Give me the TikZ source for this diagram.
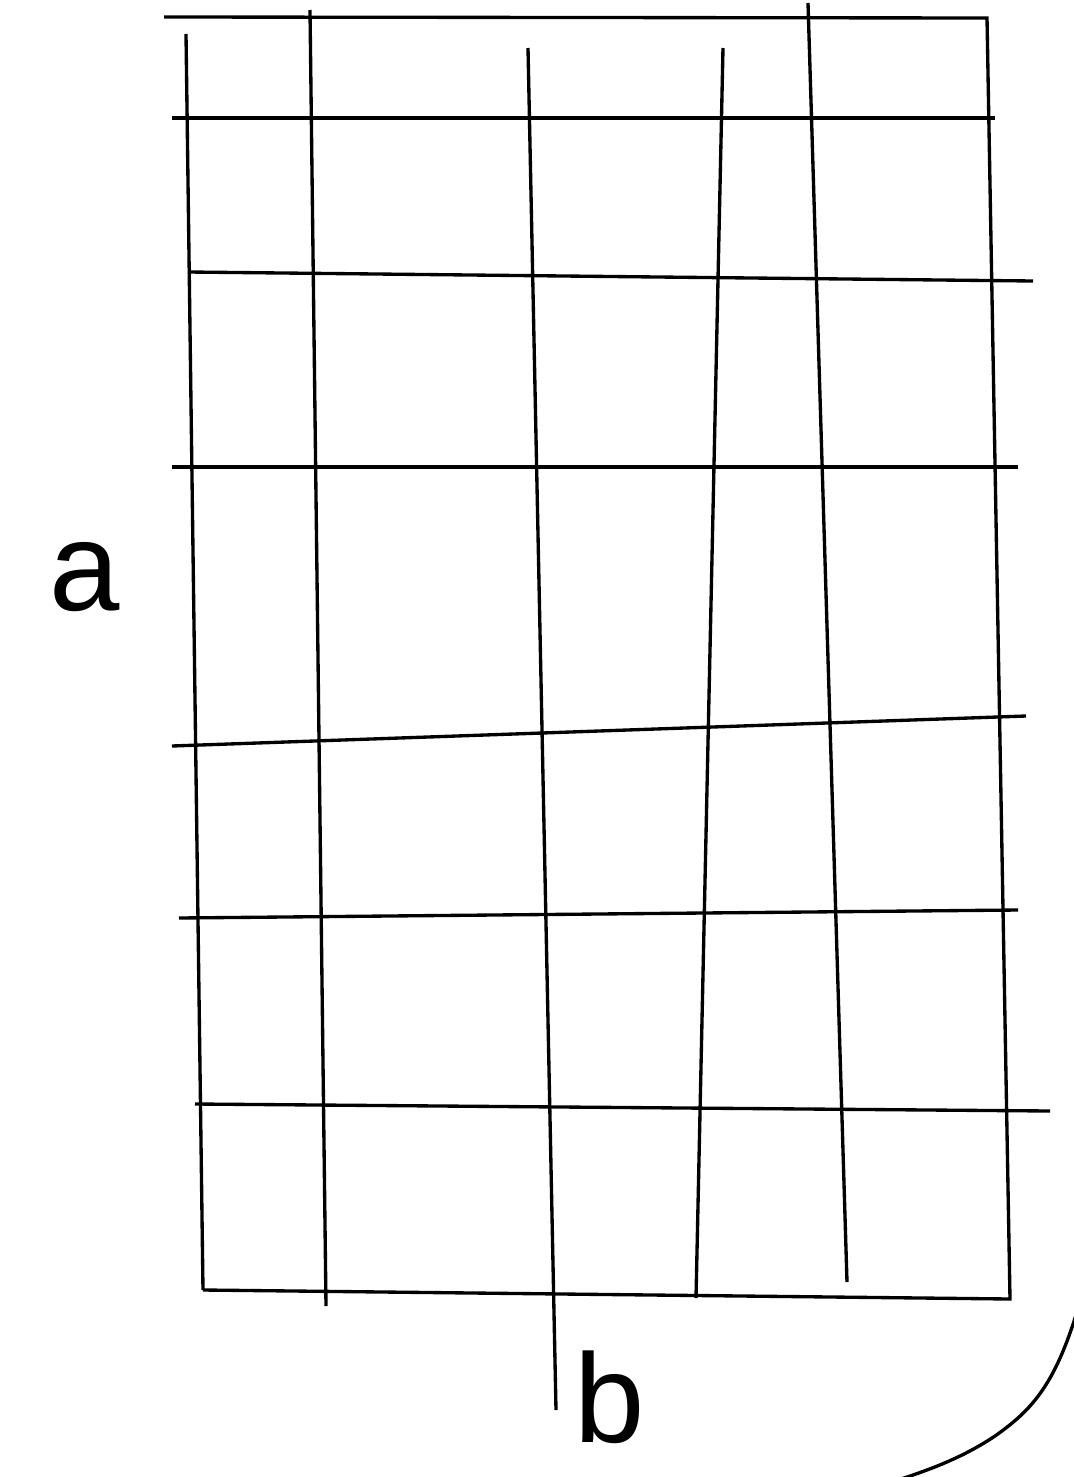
\documentclass[tikz,border=0pt]{standalone}
\usepackage{fontspec}
\setmainfont{Liberation Sans}
\usetikzlibrary{positioning}
\tikzset{gridline/.style={line width=1.9pt},
  letter/.style={inner sep=0pt,anchor=base,font=\fontsize{72}{72}\selectfont}}

\begin{document}
\begin{tikzpicture}[x=0.02cm,y=-0.02cm]
\useasboundingbox (0,0) rectangle (1073,1477);
% outer frame, top and right, bottom
\draw[gridline] (164,17) -- (987,18) -- (1010,1299) -- (203,1290);
% horizontal lines
\draw[gridline] (172,118) -- (995,118);
\draw[gridline] (188,272) -- (1033,281);
\draw[gridline] (172,467) -- (1018,467);
\draw[gridline] (172,746) -- (1026,716);
\draw[gridline] (179,918) -- (1018,910);
\draw[gridline] (195,1104) -- (1050,1111);
% vertical lines
\draw[gridline] (186,34) -- (203,1290);
\draw[gridline] (310,10) -- (326,1306);
\draw[gridline] (528,48) -- (556,1410);
\draw[gridline] (723,48) -- (696,1298);
\draw[gridline] (808,3) -- (847,1282);
% curve lower right
\draw[gridline] (1076,1315) .. controls (1054,1385) and (1032,1410) .. (995,1436)
  .. controls (965,1456) and (935,1468) .. (898,1480);
% labels
\node[letter] (lbla) at (85,610) {a};
\node[letter] (lblb) at (610,1442) {b};
\end{tikzpicture}
\end{document}
